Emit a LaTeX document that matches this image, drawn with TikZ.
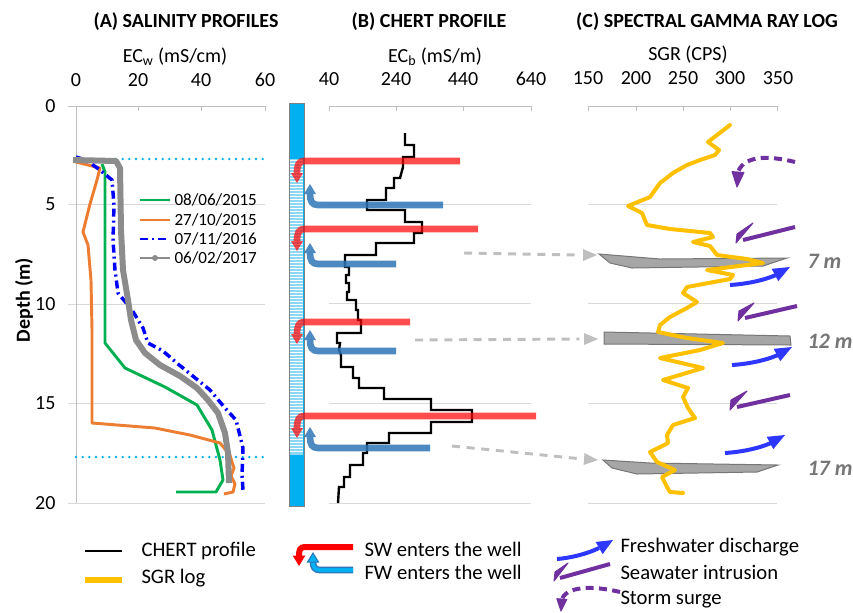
\documentclass[tikz,border=0pt]{standalone}
\usepackage{fontspec}
\setmainfont{Carlito}

\definecolor{gridgray}{RGB}{217,217,217}
\definecolor{axisgray}{RGB}{191,191,191}
\definecolor{curvegreen}{RGB}{0,176,80}
\definecolor{curveorange}{RGB}{237,125,49}
\definecolor{curveblue}{RGB}{0,0,255}
\definecolor{curvegray}{RGB}{140,140,140}
\definecolor{levelcyan}{RGB}{0,176,240}
\definecolor{wellhatch}{RGB}{140,215,245}
\definecolor{fwblue}{RGB}{46,117,182}
\definecolor{sgryellow}{RGB}{255,192,0}
\definecolor{dischargeblue}{RGB}{45,55,255}
\definecolor{intrusionpurple}{RGB}{112,48,160}
\definecolor{claygray}{RGB}{166,166,166}
\definecolor{clayedge}{RGB}{118,118,118}
\definecolor{linkgray}{RGB}{191,191,191}
\definecolor{labelgray}{RGB}{118,118,118}

\tikzset{every picture/.style={line width=0.75pt}}
\tikzset{
  gridline/.style={draw=gridgray, line width=0.75pt},
  axisline/.style={draw=axisgray, line width=0.75pt},
  ticklabel/.style={inner sep=0.75pt, font=\fontsize{15}{18}\selectfont},
  paneltitle/.style={inner sep=0.75pt, font=\fontsize{15}{18}\selectfont\bfseries},
  legendA/.style={anchor=west, inner sep=0.75pt, font=\fontsize{12.8}{15}\selectfont},
  legendtext/.style={anchor=west, inner sep=0.75pt, font=\fontsize{15.5}{18}\selectfont},
  claylabel/.style={anchor=west, inner sep=0.75pt, text=labelgray, font=\fontsize{16.5}{20}\selectfont\bfseries\itshape},
  swbar/.style={draw=red, line width=5pt, opacity=0.7},
  swhead/.style={fill=red, draw=none, opacity=0.7},
  fwbar/.style={draw=fwblue, line width=5pt, opacity=0.85},
  fwhead/.style={fill=fwblue, draw=none, opacity=0.85},
  linkline/.style={draw=linkgray, line width=2.2pt, dash pattern=on 6pt off 5pt},
  linkhead/.style={fill=linkgray, draw=none},
  claybed/.style={fill=claygray, draw=clayedge, line width=0.75pt},
  discharge/.style={draw=dischargeblue, line width=3pt},
  dischargehead/.style={fill=dischargeblue, draw=none},
  intrusion/.style={draw=intrusionpurple, line width=3pt, line join=round},
  intrusionhead/.style={fill=intrusionpurple, draw=intrusionpurple, line width=0.75pt, line join=round},
  surge/.style={draw=intrusionpurple, line width=3pt, dash pattern=on 6pt off 4pt},
}

\begin{document}
\begin{tikzpicture}[x=0.75pt,y=0.75pt,yscale=-1,xscale=1]
\path[use as bounding box] (0,0) rectangle (853,612);

%Grid lines, panel A
\draw[gridline] (68,204) -- (265,204) (68,304) -- (265,304) (68,403) -- (265,403) (68,503) -- (265,503);
\draw[axisline] (68,106) -- (265,106) (76,106) -- (76,503);
\draw[axisline] (138,106) -- (138,111) (201,106) -- (201,111) (265,106) -- (265,111);
%Grid lines, panel B
\draw[gridline] (329,204) -- (531,204) (329,303) -- (531,303) (329,403) -- (531,403) (329,503) -- (531,503);
\draw[axisline] (329,106) -- (531,106);
\draw[axisline] (329,106) -- (329,111) (396,106) -- (396,111) (463,106) -- (463,111) (531,106) -- (531,111);
%Grid lines, panel C
\draw[gridline] (588,204) -- (777,204) (588,303) -- (777,303) (588,403) -- (777,403) (588,503) -- (777,503);
\draw[axisline] (588,106) -- (777,106);
\draw[axisline] (588,106) -- (588,111) (636,106) -- (636,111) (683,106) -- (683,111) (730,106) -- (730,111) (777,106) -- (777,111);

%Water level lines
\draw[levelcyan, line width=2pt, dash pattern=on 0pt off 5pt, line cap=round] (76,159) -- (265,159);
\draw[levelcyan, line width=2pt, dash pattern=on 0pt off 5pt, line cap=round] (76,457) -- (265,457);

%Salinity profile 08/06/2015
\draw[curvegreen, line width=2.2pt, line join=round] (102,164) -- (105,172) -- (105,343) -- (125,368) -- (165,387) -- (197,405) -- (212,430) -- (220,460) -- (223,480) -- (216,492) -- (176,492);
%Salinity profile 27/10/2015
\draw[curveorange, line width=2.2pt, line join=round] (76,162) -- (100,168) -- (97,180) -- (90,204) -- (83,232) -- (88,245) -- (91,280) -- (92,330) -- (92,423) -- (155,428) -- (190,435) -- (220,443) -- (230,455) -- (232,462) -- (234,468) -- (231,476) -- (235,484) -- (233,492) -- (224,494);
%Salinity profile 07/11/2016
\draw[curveblue, line width=2.6pt, dash pattern=on 6pt off 3pt on 1.5pt off 3pt] (76,157) -- (86,160) -- (100,170) -- (112,180) -- (114,205) -- (113,240) -- (115,270) -- (118,293) -- (132,310) -- (143,328) -- (148,343) -- (163,351) -- (178,364) -- (194,377) -- (210,390) -- (225,408) -- (236,420) -- (243,448) -- (242,475) -- (243,490);
%Salinity profile 06/02/2017
\draw[curvegray, line width=4.5pt, line join=round] (73,160) -- (116,161) -- (120,168) -- (121,230) -- (123,270) -- (128,300) -- (131,320) -- (136,340) -- (145,353) -- (160,365) -- (180,376) -- (197,388) -- (208,400) -- (218,413) -- (225,433) -- (228,453) -- (229,483);

%Legend, panel A
\draw[curvegreen, line width=2pt] (140,200) -- (170,200);
\draw[curveorange, line width=2pt] (140,220) -- (170,220);
\draw[curveblue, line width=2pt, dash pattern=on 6pt off 3pt on 1.5pt off 3pt] (140,239) -- (170,239);
\draw[curvegray, line width=2pt] (140,258) -- (170,258);
\fill[curvegray] (155,258) circle (3);
\draw (173,200) node [legendA] (legjun) {08/06/2015};
\draw (173,220) node [legendA] (legoct) {27/10/2015};
\draw (173,239) node [legendA] (legnov) {07/11/2016};
\draw (173,258) node [legendA] (legfeb) {06/02/2017};

%Well
\draw[fill=levelcyan, draw=gray] (289,103) rectangle (304,506);
\fill[wellhatch] (290,159) rectangle (303,455);
\foreach \y in {160.5,163.5,...,454} \draw[white, line width=0.7pt] (290,\y) -- (303,\y);

%CHERT profile
\draw[black, line width=1.8pt, line join=miter] (405,133) -- (405,145) -- (414,145) -- (414,157) -- (403,157) -- (403,167) -- (400,178) -- (394,178) -- (394,188) -- (386,188) -- (386,200) -- (367,200) -- (367,210) -- (405,210) -- (405,222) -- (422,222) -- (422,233) -- (414,233) -- (414,243) -- (376,243) -- (376,255) -- (345,255) -- (345,267) -- (349,267) -- (349,275) -- (346,275) -- (346,283) -- (349,283) -- (349,292) -- (347,292) -- (347,300) -- (356,300) -- (356,310) -- (358,310) -- (358,320) -- (361,320) -- (361,333) -- (337,333) -- (337,343) -- (340,343) -- (339,350) -- (341,355) -- (341,367) -- (353,367) -- (353,378) -- (359,378) -- (359,388) -- (384,388) -- (384,399) -- (431,399) -- (431,410) -- (472,410) -- (472,422) -- (431,422) -- (431,433) -- (389,433) -- (389,443) -- (367,443) -- (367,453) -- (363,453) -- (363,465) -- (350,465) -- (350,477) -- (344,477) -- (344,487) -- (339,487) -- (338,503);

%SW arrows
\draw[swbar] (460,161) -- (304,161) .. controls (299,161) and (297,165) .. (297,173);
\draw[shift={(297,183)}, rotate=-90][swhead] (10,-6) -- (0,0) -- (10,6) -- cycle;
\draw[swbar] (478,229) -- (304,229) .. controls (299,229) and (297,233) .. (297,241);
\draw[shift={(297,251)}, rotate=-90][swhead] (10,-6) -- (0,0) -- (10,6) -- cycle;
\draw[swbar] (410,322) -- (304,322) .. controls (299,322) and (297,326) .. (297,334);
\draw[shift={(297,344)}, rotate=-90][swhead] (10,-6) -- (0,0) -- (10,6) -- cycle;
\draw[swbar] (536,416) -- (304,416) .. controls (299,416) and (297,420) .. (297,428);
\draw[shift={(297,438)}, rotate=-90][swhead] (10,-6) -- (0,0) -- (10,6) -- cycle;
%FW arrows
\draw[fwbar] (443,205) -- (318,205) .. controls (312,205) and (310,201) .. (310,194);
\draw[shift={(310,184)}, rotate=90][fwhead] (10,-6) -- (0,0) -- (10,6) -- cycle;
\draw[fwbar] (396,264) -- (318,264) .. controls (312,264) and (310,260) .. (310,253);
\draw[shift={(310,243)}, rotate=90][fwhead] (10,-6) -- (0,0) -- (10,6) -- cycle;
\draw[fwbar] (396,351) -- (318,351) .. controls (312,351) and (310,347) .. (310,340);
\draw[shift={(310,330)}, rotate=90][fwhead] (10,-6) -- (0,0) -- (10,6) -- cycle;
\draw[fwbar] (430,448) -- (318,448) .. controls (312,448) and (310,444) .. (310,437);
\draw[shift={(310,427)}, rotate=90][fwhead] (10,-6) -- (0,0) -- (10,6) -- cycle;

%Clay beds
\draw[claybed] (599,254) -- (660,259) -- (787,258) -- (763,266) -- (632,268) -- (610,263) -- cycle;
\draw[claybed] (604,332) -- (790,336) -- (791,345) -- (604,344) -- cycle;
\draw[claybed] (603,460) -- (650,463) -- (778,465) -- (757,472) -- (637,474) -- (612,468) -- cycle;

%Links from CHERT to clay beds
\coordinate (src7) at (464,253);
\coordinate (bed7) at (597,255);
\coordinate (src12) at (415,340);
\coordinate (bed12) at (598,339);
\coordinate (src17) at (452,446);
\coordinate (bed17) at (598,460);
\draw[linkline] (src7) -- ([xshift=-14]bed7);
\draw[shift={(bed7)}, rotate=180][linkhead] (14,-6) -- (0,0) -- (14,6) -- cycle;
\draw[linkline] (src12) -- ([xshift=-14]bed12);
\draw[shift={(bed12)}, rotate=180][linkhead] (14,-6) -- (0,0) -- (14,6) -- cycle;
\draw[linkline] (src17) -- ([xshift=-14,yshift=-1]bed17);
\draw[shift={(bed17)}, rotate=184][linkhead] (14,-6) -- (0,0) -- (14,6) -- cycle;

%SGR log
\draw[sgryellow, line width=3pt, line join=round, line cap=round] (730,125) -- (717,135) -- (708,142) -- (719,150) -- (715,155) -- (700,160) -- (687,165) -- (673,173) -- (660,183) -- (650,197) -- (628,206) -- (642,213) -- (647,225) -- (670,229) -- (710,233) -- (713,237) -- (693,242) -- (710,246) -- (717,255) -- (747,259) -- (763,263) -- (707,270) -- (733,275) -- (730,279) -- (687,287) -- (683,293) -- (697,302) -- (687,308) -- (670,317) -- (660,325) -- (658,332) -- (687,338) -- (723,343) -- (700,350) -- (660,358) -- (703,368) -- (663,380) -- (688,388) -- (683,397) -- (688,408) -- (695,418) -- (673,425) -- (667,435) -- (668,443) -- (650,452) -- (657,462) -- (675,470) -- (662,477) -- (667,487) -- (670,492) -- (683,493);

%Storm surge
\draw[surge] (795,162) .. controls (775,157) and (745,153) .. (738,172);
\draw[shift={(737,187)}, rotate=-86][intrusionhead] (15,-6) -- (0,0) -- (15,6) -- cycle;
%Seawater intrusion
\draw[intrusion] (795,227) -- (743,240);
\draw[intrusionhead] (736,243) -- (753,223) -- (737,234) -- cycle;
\draw[intrusion] (797,306) -- (745,318);
\draw[intrusionhead] (738,321) -- (754,303) -- (739,311) -- cycle;
\draw[intrusion] (790,395) -- (737,407);
\draw[intrusionhead] (730,410) -- (747,391) -- (731,400) -- cycle;
%Freshwater discharge
\draw[discharge] (730,285) .. controls (745,284) and (762,281) .. (776,275);
\draw[shift={(790,267)}, rotate=152][dischargehead] (17,-7) -- (0,0) -- (17,7) -- cycle;
\draw[discharge] (732,365) .. controls (747,364) and (764,361) .. (778,355);
\draw[shift={(792,347)}, rotate=152][dischargehead] (17,-7) -- (0,0) -- (17,7) -- cycle;
\draw[discharge] (725,453) .. controls (740,452) and (757,449) .. (771,443);
\draw[shift={(785,435)}, rotate=152][dischargehead] (17,-7) -- (0,0) -- (17,7) -- cycle;

%Clay bed labels
\draw (806,261) node [claylabel] (lab7) {7 m};
\draw (806,341) node [claylabel] (lab12) {12 m};
\draw (806,468) node [claylabel] (lab17) {17 m};

% Titles
\draw (186,22) node [paneltitle] (titleA) {(A) SALINITY PROFILES};
\draw (429,22) node [paneltitle] (titleB) {(B) CHERT PROFILE};
\draw (707,22) node [paneltitle] (titleC) {(C) SPECTRAL GAMMA RAY LOG};
% Axis titles
\draw (175,57) node [ticklabel] (axisA) {EC\textsubscript{w} (mS/cm)};
\draw (435,57) node [ticklabel] (axisB) {EC\textsubscript{b} (mS/m)};
\draw (688,55) node [ticklabel] (axisC) {SGR (CPS)};
\draw (24,300) node [paneltitle, rotate=90] (axisdepth) {Depth (m)};
% Tick labels
\draw (76,80) node [ticklabel] (ta0) {0};
\draw (138,80) node [ticklabel] (ta20) {20};
\draw (201,80) node [ticklabel] (ta40) {40};
\draw (265,80) node [ticklabel] (ta60) {60};
\draw (329,79) node [ticklabel] (tb40) {40};
\draw (396,79) node [ticklabel] (tb240) {240};
\draw (463,79) node [ticklabel] (tb440) {440};
\draw (531,79) node [ticklabel] (tb640) {640};
\draw (588,78) node [ticklabel] (tc150) {150};
\draw (636,78) node [ticklabel] (tc200) {200};
\draw (683,78) node [ticklabel] (tc250) {250};
\draw (730,78) node [ticklabel] (tc300) {300};
\draw (778,78) node [ticklabel] (tc350) {350};
\draw (57,106) node [ticklabel, anchor=east] (dep0) {0};
\draw (57,204) node [ticklabel, anchor=east] (dep5) {5};
\draw (57,304) node [ticklabel, anchor=east] (dep10) {10};
\draw (57,403) node [ticklabel, anchor=east] (dep15) {15};
\draw (57,503) node [ticklabel, anchor=east] (dep20) {20};

%Bottom legend
\draw[black, line width=1.5pt] (85,551) -- (122,551);
\draw[sgryellow, line width=4pt] (85,580) -- (122,580);
\draw (140,551) node [legendtext] (legchert) {CHERT profile};
\draw (140,578) node [legendtext] (legsgr) {SGR log};
\draw[red, line width=4.5pt] (353,547) -- (305,547) .. controls (300,547) and (299,550) .. (299,556);
\draw[shift={(299,565)}, rotate=-90][fill=red, draw=red] (9,-5.5) -- (0,0) -- (9,5.5) -- cycle;
\draw[fwblue, line width=5pt] (353,570) -- (320,570) .. controls (315,570) and (313,567) .. (313,562);
\draw[levelcyan, line width=3pt] (353,570) -- (320,570) .. controls (315,570) and (313,567) .. (313,562);
\draw[shift={(313,553)}, rotate=90][fill=levelcyan, draw=fwblue] (9,-5.5) -- (0,0) -- (9,5.5) -- cycle;
\draw (363,549) node [legendtext] (legsw) {SW enters the well};
\draw (363,572) node [legendtext] (legfw) {FW enters the well};
\draw[discharge] (557,559) .. controls (570,558) and (587,554) .. (599,548);
\draw[shift={(613,540)}, rotate=150][dischargehead] (16,-7) -- (0,0) -- (16,7) -- cycle;
\draw[intrusion] (610,564) -- (560,578);
\draw[intrusionhead] (554,581) -- (568,563) -- (555,572) -- cycle;
\draw[surge] (620,592) .. controls (600,587) and (568,584) .. (562,599);
\draw[shift={(561,611)}, rotate=-86][intrusionhead] (12,-5) -- (0,0) -- (12,5) -- cycle;
\draw (619,547) node [legendtext] (legfd) {Freshwater discharge};
\draw (619,572) node [legendtext] (legsi) {Seawater intrusion};
\draw (619,600) node [legendtext] (legss) {Storm surge};

\end{tikzpicture}
\end{document}
